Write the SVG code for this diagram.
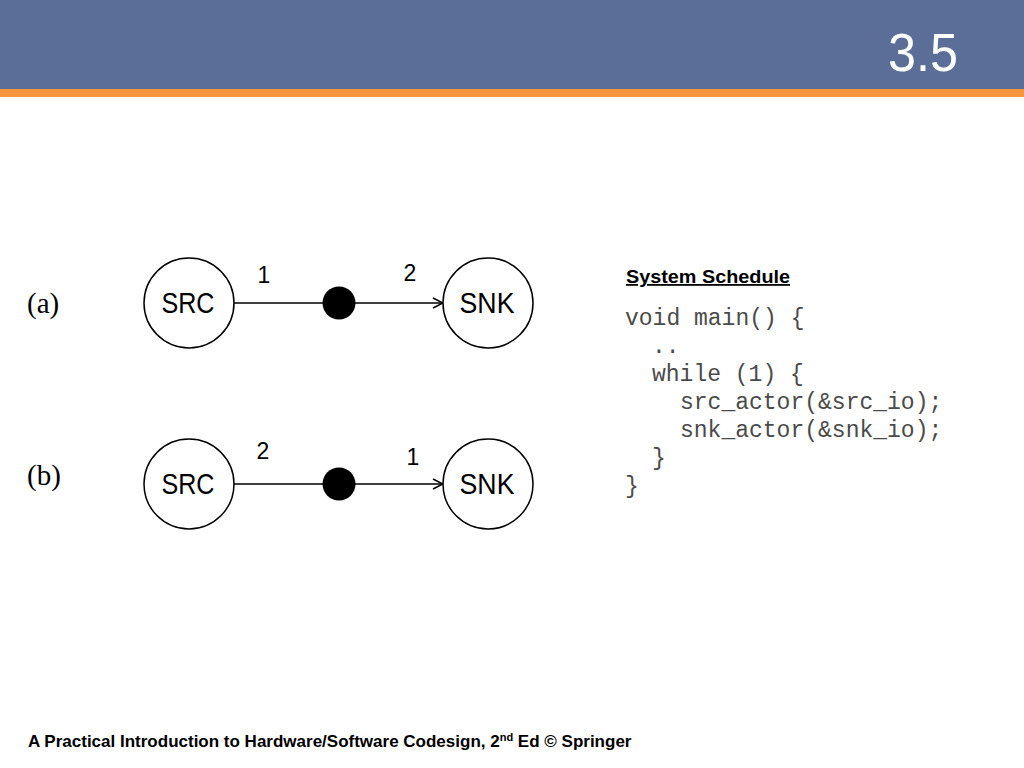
<svg xmlns="http://www.w3.org/2000/svg" width="1024" height="768" viewBox="0 0 1024 768">
<style>
.node{fill:#fff;stroke:#000;stroke-width:1.5}
.lbl{font-family:"Liberation Sans",Arial,sans-serif;font-size:29px;fill:#000;text-anchor:middle}
.num{font-family:"Liberation Sans",Arial,sans-serif;font-size:23px;fill:#000;text-anchor:middle}
.edge{stroke:#000;stroke-width:1.5;fill:none}
.tok{fill:#000}
.cap{font-family:"Liberation Serif","Times New Roman",serif;font-size:29px;fill:#000}
.code{font-family:"Liberation Mono","Courier New",monospace;font-size:23px;fill:#4a4a4a;white-space:pre}
</style>
<defs>
<marker id="arr" markerWidth="12" markerHeight="12" refX="11" refY="6" orient="auto" markerUnits="userSpaceOnUse">
<path d="M1,1 L11,6 L1,11" fill="none" stroke="#000" stroke-width="1.5"/>
</marker>
</defs>
<rect x="0" y="0" width="1024" height="89" fill="#5a6e97"/>
<rect x="0" y="89" width="1024" height="8" fill="#f7963b"/>
<text x="958" y="71" font-family="Liberation Sans,Arial,sans-serif" font-size="54" fill="#fff" text-anchor="end" textLength="70" lengthAdjust="spacingAndGlyphs">3.5</text>

<text class="cap" x="27" y="313">(a)</text>
<text class="cap" x="27" y="485">(b)</text>

<g id="connectors">
<line class="edge" x1="234" y1="303" x2="443" y2="303" marker-end="url(#arr)"/>
<line class="edge" x1="234" y1="484" x2="443" y2="484" marker-end="url(#arr)"/>
</g>

<g id="src-a"><circle class="node" cx="189" cy="303" r="45"/><text class="lbl" x="188" y="313" textLength="53" lengthAdjust="spacingAndGlyphs">SRC</text></g>
<g id="snk-a"><circle class="node" cx="488" cy="303" r="45"/><text class="lbl" x="487" y="313" textLength="55" lengthAdjust="spacingAndGlyphs">SNK</text></g>
<g id="tok-a"><circle class="tok" cx="339" cy="303" r="16.5"/></g>
<text class="num" x="264" y="283">1</text>
<text class="num" x="410" y="281">2</text>

<g id="src-b"><circle class="node" cx="189" cy="484" r="45"/><text class="lbl" x="188" y="494" textLength="53" lengthAdjust="spacingAndGlyphs">SRC</text></g>
<g id="snk-b"><circle class="node" cx="488" cy="484" r="45"/><text class="lbl" x="487" y="494" textLength="55" lengthAdjust="spacingAndGlyphs">SNK</text></g>
<g id="tok-b"><circle class="tok" cx="339" cy="484" r="16.5"/></g>
<text class="num" x="263" y="459">2</text>
<text class="num" x="413" y="465">1</text>

<text x="626" y="283" font-family="Liberation Sans,Arial,sans-serif" font-size="18" font-weight="bold" fill="#000" text-decoration="underline" textLength="164" lengthAdjust="spacingAndGlyphs">System Schedule</text>
<text class="code" x="625" y="325">void main() {</text>
<text class="code" x="652" y="353">..</text>
<text class="code" x="652" y="381">while (1) {</text>
<text class="code" x="680" y="409">src_actor(&amp;src_io);</text>
<text class="code" x="680" y="437">snk_actor(&amp;snk_io);</text>
<text class="code" x="652" y="465">}</text>
<text class="code" x="625" y="493">}</text>

<text x="28" y="747" font-family="Liberation Sans,Arial,sans-serif" font-size="17" font-weight="bold" fill="#000">A Practical Introduction to Hardware/Software Codesign, 2<tspan font-size="11" dy="-6">nd</tspan><tspan dy="6"> Ed © Springer</tspan></text>
</svg>
